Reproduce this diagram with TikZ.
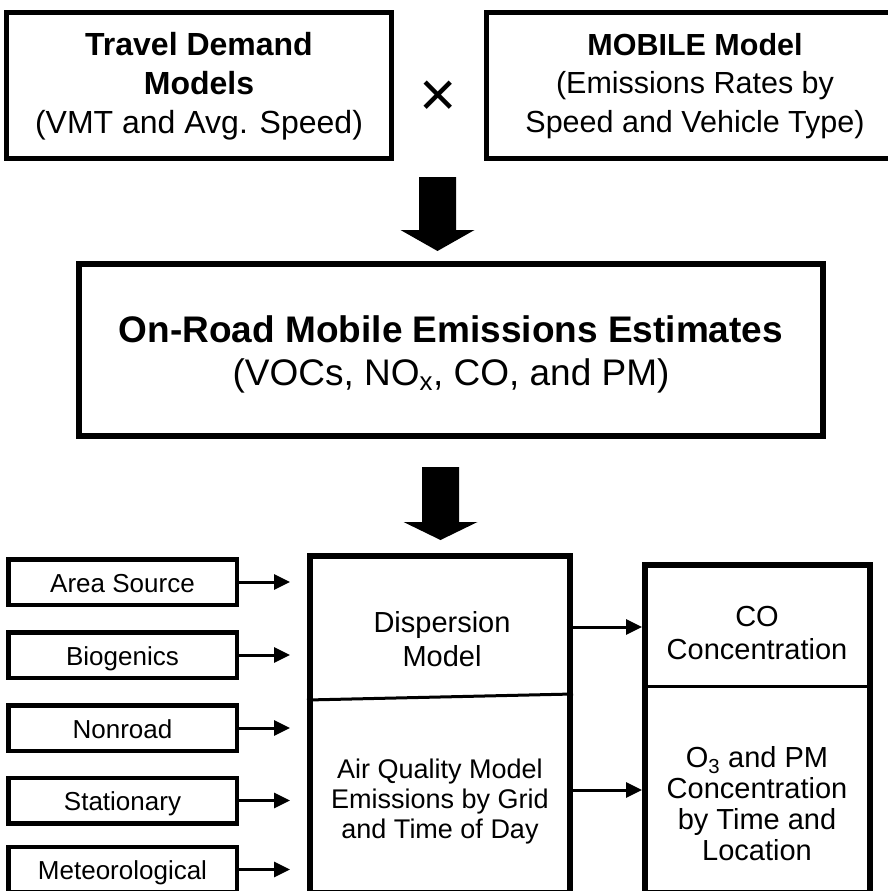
\documentclass[tikz,border=0pt]{standalone}
\usepackage{fontspec}
\setmainfont{Liberation Sans}
\usetikzlibrary{arrows.meta}

\begin{document}
\begin{tikzpicture}[x=1pt,y=-1pt,
  topbox/.style={draw, line width=5pt, minimum height=146pt, inner sep=0pt},
  frame/.style={draw, line width=6pt, inner sep=0pt},
  srcbox/.style={draw, line width=4.5pt, minimum width=228.5pt, minimum height=45.5pt,
    inner sep=0pt, text height=20pt, text depth=0pt, font=\fontsize{26}{30}\selectfont},
  txt/.style={align=center, inner sep=0pt},
  divider/.style={line width=3pt},
  arr/.style={line width=3pt, -{Triangle[length=16pt,width=15pt]}},
  bigarrow/.style={fill=black}]

\useasboundingbox (0,0) rectangle (888,891);
\fill[white] (0,0) rectangle (888,891);

% --- inputs -------------------------------------------------------
\node[topbox, minimum width=385pt] (tdm) at (199,85.5) {};
\node[txt, font=\fontsize{32}{39}\selectfont] (tdm-t) at (199,86)
  {\textbf{Travel Demand}\\\textbf{Models}\\(VMT and Avg. Speed)};

\node[font=\fontsize{64}{64}\selectfont, inner sep=0pt] (times) at (438,99) {×};

\node[topbox, minimum width=417pt] (mob) at (695,85.5) {};
\node[txt, font=\fontsize{30.5}{38.5}\selectfont] (mob-t) at (695,85.8)
  {\textbf{MOBILE Model}\\(Emissions Rates by\\Speed and Vehicle Type)};

% --- first block arrow ----------------------------------------------
\coordinate (a1) at (437.5,177);
\fill[bigarrow] (a1) ++(-18.5,0) -- ++(37,0) -- ++(0,53) -- ++(18.5,0)
  -- ++(-37,21) -- ++(-37,-21) -- ++(18.5,0) -- cycle;

% --- emissions estimate ---------------------------------------------
\node[frame, minimum width=744pt, minimum height=172pt] (est) at (451,350) {};
\node[txt, font=\fontsize{37}{43}\selectfont] (est-t) at (451,354)
  {\textbf{On-Road Mobile Emissions Estimates}\\(VOCs, NO\textsubscript{x}, CO, and PM)};

% --- second block arrow ---------------------------------------------
\coordinate (a2) at (440.5,467);
\fill[bigarrow] (a2) ++(-18.5,0) -- ++(37,0) -- ++(0,55) -- ++(18.5,0)
  -- ++(-37,18) -- ++(-37,-18) -- ++(18.5,0) -- cycle;

% --- other emission sources -----------------------------------------
\node[srcbox] (area)    at (122.5,582)   {Area Source};
\node[srcbox] (bio)     at (122.5,655)   {Biogenics};
\node[srcbox] (nonroad) at (122.5,728)   {Nonroad};
\node[srcbox] (stat)    at (122.5,800.5) {Stationary};
\node[srcbox] (met)     at (122.5,869.5) {Meteorological};

% --- models ----------------------------------------------------------
\node[frame, minimum width=260pt, minimum height=337pt] (aqm) at (440,724.5) {};
\draw[divider] (aqm.west |- 0,700) -- (aqm.east |- 0,694);
\node[txt, font=\fontsize{29}{34}\selectfont] (disp) at (442,639.6) {Dispersion\\Model};
\node[txt, font=\fontsize{27}{30}\selectfont] (aqe) at (440,801.3)
  {Air Quality Model\\Emissions by Grid\\and Time of Day};

% --- concentrations --------------------------------------------------
\node[frame, minimum width=225pt, minimum height=328pt] (conc) at (757.5,729) {};
\draw[divider] (conc.west |- 0,686) -- (conc.east |- 0,686);
\node[txt, font=\fontsize{29}{33}\selectfont] (co) at (757,633.1) {CO\\Concentration};
\node[txt, font=\fontsize{29}{31}\selectfont] (o3) at (757,804)
  {O\textsubscript{3} and PM\\Concentration\\by Time and\\Location};

% --- connectors ------------------------------------------------------
\foreach \n in {area,bio,nonroad,stat,met}
  \draw[arr, shorten >=17pt] (\n.east) -- (\n.east -| aqm.west);

\coordinate (upper) at (0,627);
\coordinate (lower) at (0,790);
\draw[arr] (upper -| aqm.east) -- (upper -| conc.west);
\draw[arr] (lower -| aqm.east) -- (lower -| conc.west);
\end{tikzpicture}
\end{document}
